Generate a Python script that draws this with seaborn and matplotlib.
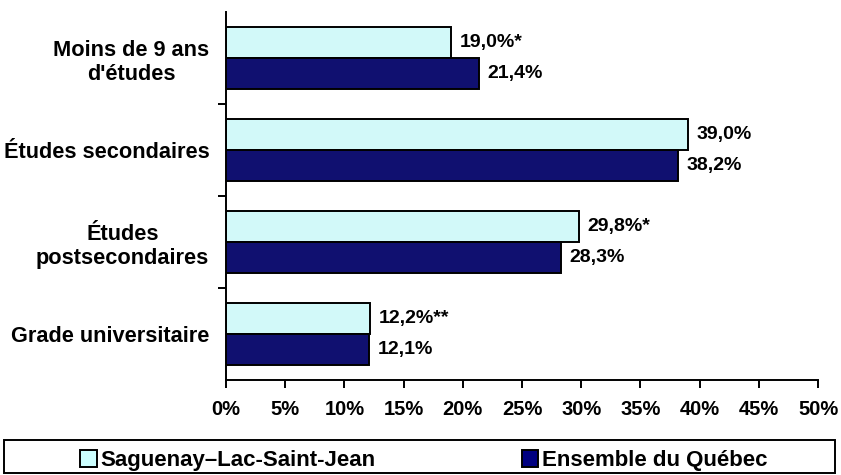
import pandas as pd
import matplotlib.pyplot as plt
import matplotlib.patches as mpatches
import seaborn as sns

# Data
categories = ["Moins de 9 ans\nd'études", "Études secondaires", "Études\npostsecondaires", "Grade universitaire"]
series = ["Saguenay–Lac-Saint-Jean", "Ensemble du Québec"]
slsj = [19.0, 39.0, 29.8, 12.2]
quebec = [21.4, 38.2, 28.3, 12.1]
slsj_marks = ["*", "", "*", "**"]
quebec_marks = ["", "", "", ""]
colors = ["#CCFFFF", "#000080"]

data = pd.DataFrame({
    "categorie": categories * 2,
    "serie": [series[0]] * 4 + [series[1]] * 4,
    "pct": slsj + quebec,
})

sns.set_style("white")
plt.rcParams["font.family"] = ["Liberation Sans", "DejaVu Sans"]
plt.rcParams["font.weight"] = "bold"
plt.rcParams["text.color"] = "black"
plt.rcParams["xtick.color"] = "black"
plt.rcParams["ytick.color"] = "black"

fig = plt.figure(figsize=(8.41, 4.75), dpi=100)
ax = fig.add_axes([0.2687, 0.2, 0.7040, 0.7747])

sns.barplot(data=data, y="categorie", x="pct", hue="serie", orient="h",
            palette=colors, width=0.67, edgecolor="black", linewidth=1.4,
            legend=False, ax=ax)

ax.set_xlim(0, 50)
ax.set_ylim(3.5, -0.5)
ax.set_xticks(range(0, 55, 5))
ax.set_xticklabels([f"{t}%" for t in range(0, 55, 5)], fontsize=14.5, fontweight="bold")
ax.set_yticks(range(4))
ax.set_yticklabels(categories, fontsize=15.7, fontweight="bold", multialignment="center",
                   linespacing=1.2)
ax.set_yticks([0.5, 1.5, 2.5], minor=True)
ax.tick_params(axis="y", which="major", left=False, length=0, pad=12)
ax.tick_params(axis="y", which="minor", left=True, length=5.5, width=1.4, direction="out")
ax.tick_params(axis="x", bottom=True, length=5.5, width=1.4, direction="out", pad=9)
ax.set_xlabel("")
ax.set_ylabel("")

for side in ["top", "right"]:
    ax.spines[side].set_visible(False)
for side in ["left", "bottom"]:
    ax.spines[side].set_color("black")
    ax.spines[side].set_linewidth(1.4)

# value labels
marks = [slsj_marks, quebec_marks]
vals = [slsj, quebec]
for i, cont in enumerate(ax.containers):
    labels = [f"{v:.1f}".replace(".", ",") + "%" + m for v, m in zip(vals[i], marks[i])]
    ax.bar_label(cont, labels=labels, padding=6, fontsize=14, fontweight="bold")

# legend with full-width box
fig.patches.append(mpatches.Rectangle((4 / 841, 0.004), 831 / 841, 0.070,
                                      transform=fig.transFigure, fill=False,
                                      edgecolor="black", linewidth=1.4))
handles = [mpatches.Patch(facecolor=c, edgecolor="black", linewidth=1.4) for c in colors]
fig.legend(handles, series, loc="center left", bbox_to_anchor=(80 / 841, 0.030),
           ncol=2, frameon=False, handlelength=0.75, handleheight=0.75,
           handletextpad=0.15, columnspacing=6.6, borderpad=0, borderaxespad=0,
           prop={"size": 16, "weight": "bold"})

plt.savefig("out.png", dpi=100)
plt.close()
